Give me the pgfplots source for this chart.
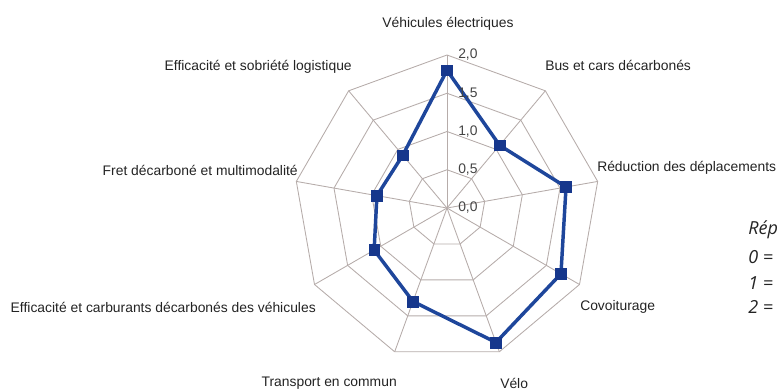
\documentclass[border=0pt]{standalone}
\usepackage{pgfplots}
\pgfplotsset{compat=1.18}
\usepackage{fontspec}
\setmainfont{Liberation Sans}
\newfontfamily\legfont{Open Sans}
\definecolor{serie}{RGB}{30,70,155}
\definecolor{markc}{RGB}{22,55,140}
\definecolor{gridc}{RGB}{182,172,170}
\definecolor{txt}{RGB}{35,35,35}
\begin{document}
\begin{tikzpicture}
\begin{axis}[
  at={(335.25pt,-156pt)}, anchor=origin,
  x=57.375pt, y=57.375pt,
  xmin=-2.2, xmax=2.2, ymin=-2.2, ymax=2.2,
  hide axis, clip=false,
]
% grid polygons
\pgfplotsinvokeforeach{0.5,1,1.5,2}{
  \addplot[gridc, line width=0.65pt, data cs=polar] coordinates {(90,#1) (50,#1) (10,#1) (-30,#1) (-70,#1) (-110,#1) (-150,#1) (-190,#1) (-230,#1) (90,#1)};
}
% spokes
\pgfplotsinvokeforeach{90,50,10,-30,-70,-110,-150,-190,-230}{
  \addplot[gridc, line width=0.65pt, data cs=polar] coordinates {(#1,0) (#1,2)};
}
% data series
\addplot[serie, line width=2.6pt, mark=square*, mark size=4pt, mark options={solid, draw=markc, fill=markc, line width=0.4pt}, data cs=polar] coordinates {
 (90,1.80) (50,1.07) (10,1.58) (-30,1.72) (-70,1.87) (-110,1.30) (-150,1.10) (-190,0.93) (-230,0.90) (90,1.80)};
% tick labels
\node[anchor=west, inner sep=0pt, xshift=8.25pt, text=txt!85, font=\fontsize{10.4pt}{12pt}\selectfont] at (axis cs:0,0) {0,0};
\node[anchor=west, inner sep=0pt, xshift=8.25pt, text=txt!85, font=\fontsize{10.4pt}{12pt}\selectfont] at (axis cs:0,0.5) {0,5};
\node[anchor=west, inner sep=0pt, xshift=8.25pt, text=txt!85, font=\fontsize{10.4pt}{12pt}\selectfont] at (axis cs:0,1) {1,0};
\node[anchor=west, inner sep=0pt, xshift=8.25pt, text=txt!85, font=\fontsize{10.4pt}{12pt}\selectfont] at (axis cs:0,1.5) {1,5};
\node[anchor=west, inner sep=0pt, xshift=8.25pt, text=txt!85, font=\fontsize{10.4pt}{12pt}\selectfont] at (axis cs:0,2) {2,0};
\end{axis}
% category labels
\begin{scope}[every node/.style={inner sep=0pt, text=txt, font=\fontsize{10.4pt}{12pt}\selectfont}]
\node[anchor=center] at (336pt,-18pt) {Véhicules électriques};
\node[anchor=west] at (408.75pt,-48.75pt) {Bus et cars décarbonés};
\node[anchor=east] at (264pt,-50.25pt) {Efficacité et sobriété logistique};
\node[anchor=west] at (447.75pt,-126pt) {Réduction des déplacements};
\node[anchor=east] at (223.5pt,-127.5pt) {Fret décarboné et multimodalité};
\node[anchor=west] at (435pt,-230.25pt) {Covoiturage};
\node[anchor=east] at (237pt,-230.25pt) {Efficacité et carburants décarbonés des véhicules};
\node[anchor=east] at (297.75pt,-287.25pt) {Transport en commun};
\node[anchor=west] at (375pt,-287.25pt) {Vélo};
\end{scope}
% legend (cut at the right edge)
\begin{scope}
\clip (0,0) rectangle (583.5pt,-292.5pt);
\begin{scope}[every node/.style={inner sep=0pt, anchor=west, text=txt, font=\legfont\itshape\fontsize{13.5pt}{16pt}\selectfont}]
\node at (561pt,-172.5pt) {Réponses :};
\node at (561pt,-192.75pt) {0 = non};
\node at (561pt,-212.25pt) {1 = oui};
\node at (561pt,-230.25pt) {2 = oui};
\end{scope}
\end{scope}
\pgfresetboundingbox
\useasboundingbox (0,0) rectangle (583.5pt,-292.5pt);
\end{tikzpicture}
\end{document}
